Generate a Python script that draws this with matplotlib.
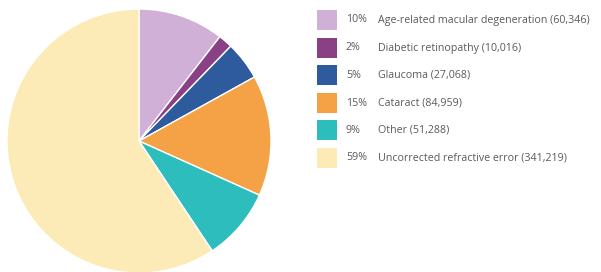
import matplotlib.pyplot as plt
from matplotlib.patches import Rectangle

labels = ['Age-related macular degeneration', 'Diabetic retinopathy', 'Glaucoma',
          'Cataract', 'Other', 'Uncorrected refractive error']
counts = [60346, 10016, 27068, 84959, 51288, 341219]
pcts = ['10%', '2%', '5%', '15%', '9%', '59%']
colors = ['#d1b0d7', '#8a4084', '#2d5b9d', '#f5a247', '#2dbdbc', '#fdebb7']

W, H = 601, 272
fig = plt.figure(figsize=(W / 100, H / 100), dpi=100)

# pie axes in pixel coordinates
cx, cy, r = 139, 141, 132
ax = fig.add_axes([(cx - r) / W, 1 - (cy + r) / H, 2 * r / W, 2 * r / H])
ax.pie(counts, colors=colors, startangle=90, counterclock=False,
       wedgeprops=dict(edgecolor='white', linewidth=1.0))
ax.set_aspect('auto')
ax.set_xlim(-1, 1)
ax.set_ylim(-1, 1)
ax.axis('off')

# legend
rows_y = [20, 48, 75, 103, 130, 158]
for i, y in enumerate(rows_y):
    fig.patches.append(Rectangle((317 / W, 1 - (y + 10) / H), 20 / W, 20 / H,
                                 transform=fig.transFigure, facecolor=colors[i],
                                 edgecolor='none'))
    fig.text(346 / W, 1 - y / H, pcts[i], fontsize=7.7, family='Open Sans',
             color='#5a5a5a', va='center', ha='left')
    fig.text(378 / W, 1 - y / H, '%s (%s)' % (labels[i], format(counts[i], ',')),
             fontsize=7.7, family='Open Sans', color='#5a5a5a', va='center', ha='left')

fig.savefig('out.png', dpi=100)
